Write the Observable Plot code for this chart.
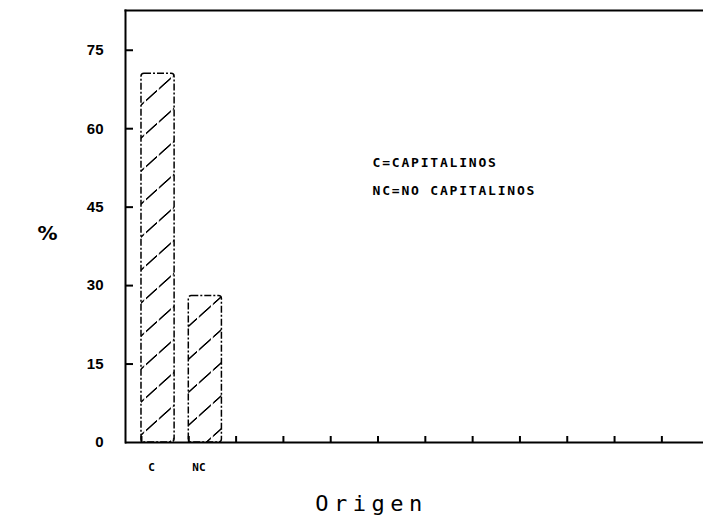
<!DOCTYPE html>
<html><head><meta charset="utf-8">
<script src="https://cdn.jsdelivr.net/npm/d3@7"></script>
<script src="https://cdn.jsdelivr.net/npm/@observablehq/plot@0.6"></script>
<style>body{margin:0;background:#fff}</style>
</head><body><div id="chart"></div>
<script>
// ---- data ----
const categories = ["C", "NC"];
const values = [70.5, 28];
const yTicks = [0, 15, 30, 45, 60, 75];
const xTicks = [0, 1, 2, 3, 4, 5, 6, 7, 8, 9, 10, 11];
const legendLines = ["C=CAPITALINOS", "NC=NO CAPITALINOS"];
const yLabel = "%";
const xLabel = "Origen";

const data = categories.map((c, i) => ({cat: c, i, value: values[i]}));
const mono = "DejaVu Sans Mono, monospace";

const chart = Plot.plot({
  width: 703, height: 528,
  marginLeft: 125, marginRight: 0, marginTop: 10, marginBottom: 86,
  style: {background: "white", color: "black", overflow: "visible"},
  x: {type: "linear", domain: [-0.338, 11.88], axis: null},
  y: {domain: [0, 82.6], axis: null, label: null},
  marks: [
    Plot.rect(data, {x1: "i", x2: d => d.i + 0.7, y1: 0, y2: "value",
      fill: "url(#hatch)", stroke: "black", strokeWidth: 1.5,
      strokeDasharray: "7,2,2,2", rx: 3}),
    Plot.ruleX(xTicks, {x: d => d, insetTop: 426, strokeWidth: 2}),
    Plot.ruleY(yTicks.filter(d => d > 0), {y: d => d, insetRight: 570, strokeWidth: 2}),
    Plot.axisY(yTicks, {tickSize: 0, tickPadding: 22, fontSize: 15, fontWeight: "bold",
      label: null, fontFamily: "Liberation Sans, sans-serif", tickFormat: d => d}),
    Plot.frame({anchor: "left", strokeWidth: 2}),
    Plot.frame({anchor: "top", strokeWidth: 2}),
    Plot.ruleY([0], {strokeWidth: 2}),
    Plot.text(data, {x: d => d.i + 0.3, y: 0, text: "cat", dy: 25, dx: -4,
      fontSize: 11, fontWeight: "bold", fontFamily: mono}),
    Plot.text([legendLines.join("\n")], {frameAnchor: "top-left", text: d => d,
      dx: 247, dy: 136, textAnchor: "start", lineAnchor: "top", lineHeight: 2.2,
      fontSize: 13, fontWeight: "bold", fontFamily: mono}),
    Plot.text([yLabel], {frameAnchor: "left", text: d => d, dx: -88, dy: 7,
      fontSize: 20, fontWeight: "bold", fontFamily: "DejaVu Sans, sans-serif"}),
    Plot.text([xLabel], {frameAnchor: "bottom", text: d => d, dx: -43, dy: 68,
      fontSize: 22, fontFamily: mono})
  ]
});

// letter spacing for the wide typewriter-like texts
chart.querySelectorAll("text, tspan").forEach(t => {
  const s = t.textContent;
  if (legendLines.includes(s) || legendLines.join("\n") === s) t.setAttribute("letter-spacing", "1.8");
  if (s === xLabel) t.setAttribute("letter-spacing", "5.5");
});

// hatch pattern definition
const ns = "http://www.w3.org/2000/svg";
const defs = document.createElementNS(ns, "defs");
defs.innerHTML = `<pattern id="hatch" patternUnits="userSpaceOnUse" width="40" height="33" patternTransform="skewY(-42)">
  <rect width="40" height="33" fill="white"/>
  <line x1="0" y1="1" x2="40" y2="1" stroke="black" stroke-width="1.8" stroke-dasharray="11,2"/>
</pattern>`;
chart.insertBefore(defs, chart.firstChild);
document.getElementById("chart").appendChild(chart);
</script>
</body></html>
